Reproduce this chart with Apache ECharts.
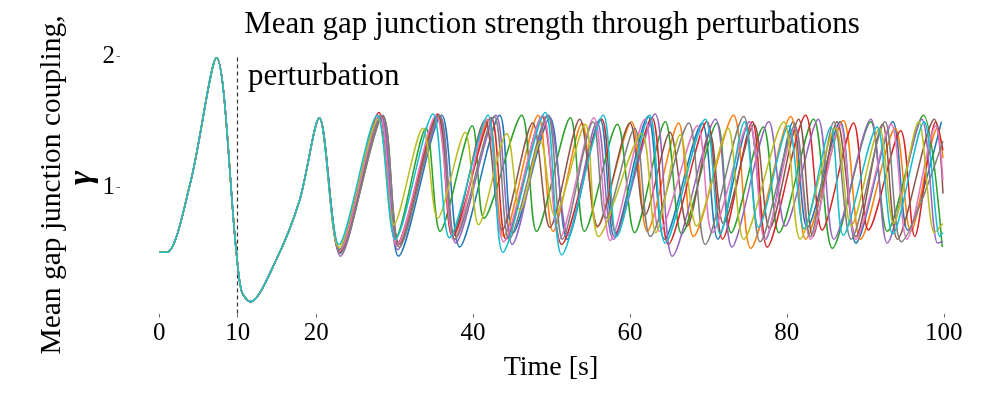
<!DOCTYPE html>
<html>
<head>
<meta charset="utf-8">
<script src="https://cdn.jsdelivr.net/npm/echarts@6/dist/echarts.min.js"></script>
<style>html,body{margin:0;padding:0;background:#fff;}#chart{width:1000px;height:400px;}</style>
</head>
<body>
<div id="chart"></div>
<script>
// ---- data: [time (s), mean coupling] ----
const xTicks = [0, 10, 20, 40, 60, 80, 100];
const yTicks = [1, 2];
const perturbationTime = 10;
const colors = ['#1f77b4','#ff7f0e','#2ca02c','#d62728','#9467bd','#8c564b','#e377c2','#7f7f7f','#bcbd22','#17becf'];

const commonStart = [[0,0.5],[1.0,0.5],[4.0,1.04],[7.3,1.99],[9.8,0.52],[10.5,0.2],[11.6,0.12],[14.9,0.44],[17.9,0.9],[20.4,1.53]];

const run0 = [[23.0,0.50],[28.3,1.54],[30.5,0.47],[36.0,1.55],[38.3,0.54],[43.4,1.55],[45.1,0.65],[49.8,1.53],[52.0,0.60],[56.2,1.52],[58.0,0.62],[62.3,1.54],[64.4,0.60],[69.2,1.49],[71.2,0.60],[75.2,1.50],[77.3,0.60],[80.8,1.50],[82.6,0.69],[86.8,1.50],[88.8,0.57],[93.5,1.50],[95.4,0.67],[99.7,1.50]];
const run1 = [[23.0,0.52],[28.2,1.55],[30.3,0.55],[35.5,1.54],[37.6,0.60],[42.0,1.52],[43.9,0.62],[48.3,1.55],[50.2,0.66],[53.9,1.49],[55.8,0.69],[60.2,1.50],[62.2,0.66],[66.2,1.49],[68.1,0.62],[73.2,1.55],[75.4,0.53],[80.5,1.54],[82.4,0.60],[87.2,1.51],[89.4,0.60],[93.8,1.45],[95.8,0.66],[99.2,1.45],[99.9,1.22]];
const run2 = [[23.0,0.52],[28.1,1.54],[30.2,0.62],[34.0,1.45],[35.8,0.66],[39.9,1.47],[41.4,0.76],[46.2,1.55],[48.1,0.66],[52.4,1.53],[54.2,0.66],[58.4,1.48],[60.6,0.65],[64.5,1.50],[66.6,0.64],[71.1,1.49],[72.9,0.65],[77.0,1.46],[79.0,0.65],[83.4,1.52],[85.8,0.53],[90.7,1.50],[92.8,0.66],[97.4,1.55],[99.8,0.54]];
const run3 = [[23.0,0.50],[28.0,1.57],[30.3,0.56],[35.5,1.56],[37.4,0.62],[42.3,1.53],[44.2,0.60],[48.8,1.54],[51.3,0.56],[56.4,1.52],[58.2,0.65],[62.8,1.53],[64.9,0.56],[69.8,1.50],[71.8,0.60],[75.6,1.50],[77.5,0.54],[82.4,1.55],[84.5,0.67],[88.5,1.49],[90.4,0.67],[94.5,1.43],[96.3,0.62],[99.0,1.50],[99.9,1.28]];
const run4 = [[23.1,0.47],[28.3,1.54],[30.4,0.52],[35.8,1.54],[37.8,0.57],[42.9,1.55],[45.0,0.56],[49.6,1.55],[52.1,0.63],[55.8,1.50],[57.9,0.60],[63.2,1.56],[65.4,0.47],[70.9,1.52],[73.0,0.54],[77.7,1.50],[79.8,0.70],[84.0,1.52],[86.0,0.60],[90.7,1.52],[92.8,0.57],[97.2,1.52],[99.2,0.57],[99.9,0.58]];
const run5 = [[23.1,0.50],[28.5,1.54],[30.6,0.56],[35.6,1.55],[37.5,0.65],[41.5,1.51],[43.7,0.67],[47.6,1.49],[49.8,0.69],[53.6,1.52],[55.9,0.70],[60.0,1.49],[61.9,0.78],[65.1,1.42],[67.3,0.70],[70.2,1.41],[71.9,0.72],[75.8,1.48],[77.8,0.68],[81.5,1.52],[83.3,0.62],[86.4,1.50],[88.8,0.62],[92.2,1.48],[94.1,0.60],[98.8,1.52],[99.9,0.95]];
const run6 = [[23.0,0.51],[28.1,1.55],[30.3,0.55],[35.3,1.55],[37.6,0.59],[41.8,1.52],[43.9,0.58],[48.9,1.55],[51.0,0.60],[55.4,1.53],[57.5,0.59],[61.9,1.52],[63.8,0.66],[68.6,1.47],[70.5,0.65],[75.2,1.50],[77.2,0.60],[81.0,1.45],[83.0,0.60],[86.8,1.48],[88.8,0.60],[93.3,1.48],[95.3,0.60],[99.0,1.47],[99.9,1.05]];
const run7 = [[23.1,0.49],[28.5,1.55],[30.6,0.54],[35.7,1.55],[37.7,0.60],[42.7,1.54],[44.6,0.60],[49.5,1.55],[51.4,0.60],[55.3,1.50],[56.9,0.76],[60.6,1.45],[62.6,0.62],[67.5,1.49],[69.6,0.56],[74.5,1.54],[76.6,0.58],[81.0,1.47],[83.0,0.62],[86.0,1.50],[88.2,0.60],[92.5,1.50],[94.6,0.58],[99.9,1.35]];
const run8 = [[22.9,0.54],[27.9,1.52],[29.9,0.71],[33.6,1.45],[35.5,0.76],[39.0,1.42],[40.7,0.71],[44.3,1.41],[46.0,0.82],[48.6,1.35],[50.4,0.78],[54.3,1.48],[56.0,0.62],[61.5,1.41],[63.3,0.65],[66.4,1.40],[68.5,0.70],[72.5,1.45],[74.5,0.60],[79.6,1.50],[81.7,0.60],[86.2,1.45],[88.2,0.70],[91.8,1.45],[93.6,0.72],[96.8,1.50],[98.8,0.65],[99.9,0.72]];
const run9 = [[22.9,0.56],[27.8,1.55],[30.1,0.60],[34.9,1.56],[37.0,0.61],[41.9,1.55],[43.8,0.50],[49.2,1.57],[51.3,0.48],[56.6,1.55],[58.3,0.62],[62.5,1.55],[64.5,0.57],[69.6,1.52],[71.5,0.64],[74.6,1.50],[76.4,0.69],[80.2,1.47],[82.2,0.68],[85.6,1.46],[87.2,0.63],[91.5,1.46],[93.5,0.64],[97.5,1.50],[99.5,0.62],[99.9,0.65]];
const runs = [run0, run1, run2, run3, run4, run5, run6, run7, run8, run9];

const FONT = "'Liberation Serif', 'DejaVu Serif', serif";
const chart = echarts.init(document.getElementById('chart'), null, {renderer: 'canvas'});

const series = runs.map((r, i) => ({
  type: 'line',
  name: 'run ' + (i + 1),
  data: commonStart.concat(r),
  showSymbol: false,
  symbol: 'none',
  smooth: 0.3,
  clip: false,
  lineStyle: {color: colors[i], width: 1.5},
  itemStyle: {color: colors[i]},
  z: 2 + i
}));
series[0].markLine = {
  silent: true,
  symbol: ['none', 'none'],
  label: {show: false},
  lineStyle: {color: '#333', type: [4, 3], width: 1.2},
  data: [[{coord: [perturbationTime, 0.03]}, {coord: [perturbationTime, 2.0]}]]
};

chart.setOption({
  animation: false,
  backgroundColor: '#fff',
  grid: {left: 120, right: 17, top: 45.6, bottom: 86},
  xAxis: {
    type: 'value', min: -5, max: 105,
    axisLine: {show: false, onZero: false},
    splitLine: {show: false},
    axisTick: {show: true, customValues: xTicks, length: 3.5, lineStyle: {color: '#444', width: 0.8}},
    axisLabel: {customValues: xTicks, fontFamily: FONT, fontSize: 25, color: '#000', margin: 7}
  },
  yAxis: {
    type: 'value', min: 0.0265, max: 2.0835,
    axisLine: {show: false, onZero: false},
    splitLine: {show: false},
    axisTick: {show: true, customValues: yTicks, length: 3.5, lineStyle: {color: '#444', width: 0.8}},
    axisLabel: {customValues: yTicks, fontFamily: FONT, fontSize: 25, color: '#000', margin: 5}
  },
  graphic: [
    {type: 'text', x: 552, y: 25, style: {text: 'Mean gap junction strength through perturbations', font: '31px ' + FONT, fill: '#000', textAlign: 'center', textVerticalAlign: 'middle'}},
    {type: 'text', x: 248, y: 77, style: {text: 'perturbation', font: '31px ' + FONT, fill: '#000', textAlign: 'left', textVerticalAlign: 'middle'}},
    {type: 'text', x: 551, y: 368, style: {text: 'Time [s]', font: '28px ' + FONT, fill: '#000', textAlign: 'center', textVerticalAlign: 'middle'}},
    {type: 'text', x: 52, y: 185, rotation: Math.PI / 2, style: {text: 'Mean gap junction coupling,', font: '29.5px ' + FONT, fill: '#000', textAlign: 'center', textVerticalAlign: 'middle'}},
    {type: 'text', x: 82, y: 178, rotation: Math.PI / 2, style: {text: 'γ', font: 'italic bold 34px ' + FONT, fill: '#000', textAlign: 'center', textVerticalAlign: 'middle'}}
  ],
  series: series
});
</script>
</body>
</html>
